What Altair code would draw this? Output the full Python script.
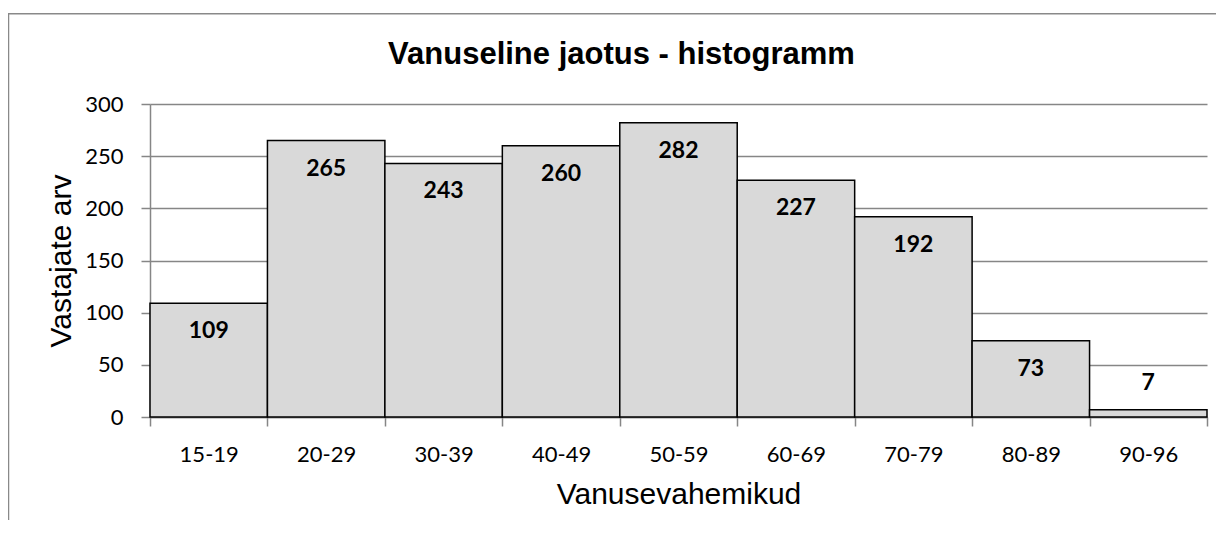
import altair as alt
import pandas as pd

categories = ["15-19", "20-29", "30-39", "40-49", "50-59", "60-69", "70-79", "80-89", "90-96"]
counts = [109, 265, 243, 260, 282, 227, 192, 73, 7]
y_ticks = [0, 50, 100, 150, 200, 250, 300]

df = pd.DataFrame({"vahemik": categories, "arv": counts})

W, H = 1057, 313
GRAY = "#868686"

x_enc = alt.X(
    "vahemik:N",
    sort=categories,
    scale=alt.Scale(paddingInner=0, paddingOuter=0),
    axis=alt.Axis(
        title="Vanusevahemikud",
        labelAngle=0,
        tickBand="extent",
        labelBaseline="alphabetic",
        labelPadding=35,
        titleBaseline="alphabetic",
        titleY=86,
        grid=False,
    ),
)
y_enc = alt.Y(
    "arv:Q",
    scale=alt.Scale(domain=[0, 300], nice=False),
    axis=alt.Axis(
        title="Vastajate arv",
        values=y_ticks,
        labelPadding=18,
        titleX=-79.5,
        titleBaseline="alphabetic",
        grid=True,
    ),
)

base = alt.Chart(df)
bars = base.mark_bar(fill="#D9D9D9", stroke="black", strokeWidth=1.5).encode(x=x_enc, y=y_enc)

inside = base.transform_filter("datum.arv >= 30").mark_text(
    font="Lato", fontWeight="bold", fontSize=23, baseline="middle", dy=28, color="black"
).encode(x=alt.X("vahemik:N", sort=categories), y="arv:Q", text="arv:Q")

outside = base.transform_filter("datum.arv < 30").mark_text(
    font="Lato", fontWeight="bold", fontSize=23, baseline="middle", dy=-27, color="black"
).encode(x=alt.X("vahemik:N", sort=categories), y="arv:Q", text="arv:Q")

frame = alt.Chart(pd.DataFrame({"k": [0]})).mark_rect(
    filled=False, stroke="#898989", strokeWidth=1.5
).encode(x=alt.value(-141.5), x2=alt.value(1300), y=alt.value(-90.3), y2=alt.value(700))

chart = alt.layer(frame, bars, inside, outside).properties(
    width=W,
    height=H,
    autosize=alt.AutoSizeParams(type="none"),
    padding={"left": 142, "top": 96, "right": 9, "bottom": 103},
    title=alt.TitleParams(
        "Vanuseline jaotus - histogramm",
        font="Liberation Sans",
        fontSize=31,
        fontWeight="bold",
        color="black",
        anchor="middle",
        frame="group",
        dx=-57,
        dy=82,
        baseline="alphabetic",
        offset=0,
    ),
).configure_view(stroke=None).configure_axis(
    labelFont="Lato",
    labelFontSize=22,
    labelColor="black",
    titleFont="Liberation Sans",
    titleFontSize=30,
    titleFontWeight="normal",
    titleColor="black",
    domainColor=GRAY,
    domainWidth=1.5,
    tickColor=GRAY,
    tickWidth=1.5,
    tickSize=9,
    gridColor=GRAY,
    gridWidth=1.5,
)

chart.save("out.html", embed_options={"renderer": "svg", "actions": False})
